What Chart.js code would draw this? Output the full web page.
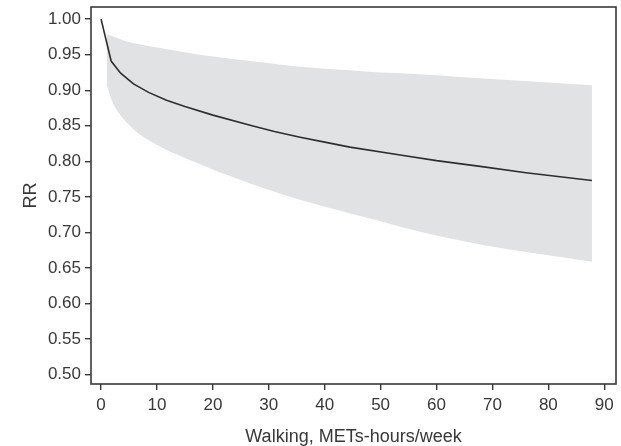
<!DOCTYPE html>
<html>
<head>
<meta charset="utf-8">
<script src="https://cdn.jsdelivr.net/npm/chart.js@4"></script>
<style>
  html, body { margin: 0; padding: 0; background: #ffffff; }
  #wrap { width: 621px; height: 446px; position: relative; }
</style>
</head>
<body>
<div id="wrap"><canvas id="c" width="621" height="446"></canvas></div>
<script>
// Dose-response: relative risk by weekly walking volume
const walkX   = [0, 1.8, 3.5, 5.8, 8.5, 11.7, 15, 20, 27, 31, 35.6, 40, 44.5, 53.5, 60, 67.8, 76, 87.8];
const rrMean  = [1.00, 0.941, 0.924, 0.909, 0.897, 0.886, 0.877, 0.865, 0.850, 0.842, 0.834, 0.827, 0.820, 0.809, 0.801, 0.793, 0.784, 0.773];

const bandX   = [1.0, 2.0, 3.0, 4.8, 6.6, 10.8, 16.8, 20.4, 26.7, 35.6, 44.5, 49.9, 53.5, 67.8, 87.8];
const ciUpper = [0.979, 0.976, 0.973, 0.968, 0.965, 0.959, 0.951, 0.947, 0.941, 0.933, 0.928, 0.925, 0.924, 0.917, 0.907];
const ciLower = [0.908, 0.884, 0.870, 0.853, 0.840, 0.820, 0.799, 0.787, 0.769, 0.746, 0.727, 0.716, 0.708, 0.683, 0.659];

const xTicks = [0, 10, 20, 30, 40, 50, 60, 70, 80, 90];
const yTicks = [0.50, 0.55, 0.60, 0.65, 0.70, 0.75, 0.80, 0.85, 0.90, 0.95, 1.00];

const pts = (xs, ys) => xs.map((x, i) => ({ x: x, y: ys[i] }));

// box around the plotting area
const frame = {
  id: 'frame',
  afterDraw(chart) {
    const a = chart.chartArea, ctx = chart.ctx;
    ctx.save();
    ctx.strokeStyle = '#3a3a3a';
    ctx.lineWidth = 1.6;
    ctx.strokeRect(a.left, a.top, a.right - a.left, a.bottom - a.top);
    ctx.restore();
  }
};

const FONT = "'Liberation Sans', Arial, Helvetica, sans-serif";

new Chart(document.getElementById('c'), {
  type: 'line',
  data: {
    datasets: [
      {
        label: 'RR',
        data: pts(walkX, rrMean),
        borderColor: '#2e2e2e',
        borderWidth: 1.6,
        pointRadius: 0,
        fill: false,
        order: 0,
        tension: 0
      },
      {
        label: 'upper',
        data: pts(bandX, ciUpper),
        borderWidth: 0,
        pointRadius: 0,
        backgroundColor: '#e1e2e4',
        fill: '+1',
        order: 2,
        cubicInterpolationMode: 'monotone'
      },
      {
        label: 'lower',
        data: pts(bandX, ciLower),
        borderWidth: 0,
        pointRadius: 0,
        fill: false,
        order: 3,
        cubicInterpolationMode: 'monotone'
      }
    ]
  },
  options: {
    responsive: false,
    animation: false,
    devicePixelRatio: 1,
    layout: { padding: { left: 0, top: 7, right: 5, bottom: 0 } },
    plugins: { legend: { display: false }, tooltip: { enabled: false } },
    scales: {
      x: {
        type: 'linear',
        min: -1.8,
        max: 92.1,
        afterBuildTicks(s) { s.ticks = xTicks.map(v => ({ value: v })); },
        afterFit(s) { s.height = 62; s.paddingLeft = 0; s.paddingRight = 0; },
        grid: { drawOnChartArea: false, tickLength: 6, color: '#3a3a3a', lineWidth: 1.4 },
        border: { display: false },
        ticks: { color: '#383838', font: { family: FONT, size: 17 }, padding: 5, maxRotation: 0 },
        title: { display: true, text: 'Walking, METs-hours/week', color: '#383838',
                 font: { family: FONT, size: 18, lineHeight: 1 }, padding: { top: 0, bottom: 0 } }
      },
      y: {
        type: 'linear',
        min: 0.487,
        max: 1.017,
        afterBuildTicks(s) { s.ticks = yTicks.map(v => ({ value: v })); },
        afterFit(s) { s.width = 91; s.paddingTop = 0; s.paddingBottom = 0; },
        grid: { drawOnChartArea: false, tickLength: 6, color: '#3a3a3a', lineWidth: 1.4 },
        border: { display: false },
        ticks: { color: '#383838', font: { family: FONT, size: 17 }, padding: 4,
                 callback: v => v.toFixed(2) },
        title: { display: true, text: 'RR', color: '#383838',
                 font: { family: FONT, size: 18 }, padding: { top: 20, bottom: 0 } }
      }
    }
  },
  plugins: [frame]
});
</script>
</body>
</html>
